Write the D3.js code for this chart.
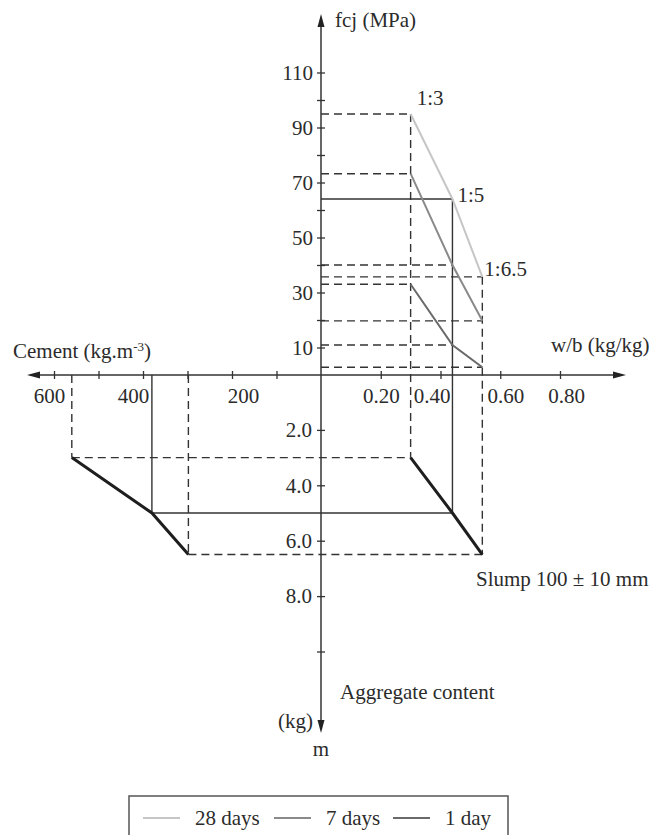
<!DOCTYPE html>
<html>
<head>
<meta charset="utf-8">
<script src="https://cdn.jsdelivr.net/npm/d3@7"></script>
<style>
  html, body { margin: 0; padding: 0; background: #fff; }
  svg { display: block; }
  text { font-family: "Liberation Serif", "Times New Roman", serif; fill: #2b2b2b; }
</style>
</head>
<body>
<div id="chart"></div>
<script>
// mix design
const mixLabels = ["1:3", "1:5", "1:6.5"]
const wbRatio = [0.30, 0.44, 0.54]          // w/b (kg/kg)
const fcj28 = [94.9, 64, 35.7]              // MPa
const fcj7 = [73.2, 40, 19.7]
const fcj1 = [33, 10.9, 2.8]
const aggregate = [3.0, 5.0, 6.5]           // m (kg)
const cement = [560, 380, 298]              // kg.m-3

const seriesNames = ["28 days", "7 days", "1 day"]
const seriesValues = [fcj28, fcj7, fcj1]

// tick labels
const fcjLabelled = [10, 30, 50, 70, 90, 110]
const fcjMinor = [20, 40, 60, 80, 100]
const cementLabelled = [200, 400, 600]
const cementMinor = [100, 300, 500]
const wbLabelled = [0.2, 0.4, 0.6, 0.8]
const mLabelled = [2, 4, 6, 8]
const mMinor = [10]

const W = 651, H = 835
const ox = 321, oy = 375
const seriesColors = ["#c6c6c6", "#8a8a8a", "#6a6a6a"]
const ink = "#333"
const FS = "21px"

const svg = d3.select("#chart").append("svg")
  .attr("width", W).attr("height", H)
  .attr("viewBox", `0 0 ${W} ${H}`)

// scales for the four quadrants
const yUp = d3.scaleLinear().domain([0, 110]).range([oy, 72.5])
const yDown = d3.scaleLinear().domain([0, 10]).range([oy - 0.5, 651.5])
const xCem = d3.scaleLinear().domain([0, 600]).range([ox, 54])
const xWb = d3.scaleLinear().domain([0, 0.8]).range([ox, 560])

const dash = "8,5"

// --- axes (lines + arrows) ---
const axG = svg.append("g")
axG.append("line").attr("x1", 30).attr("x2", 622).attr("y1", oy).attr("y2", oy)
  .attr("stroke", ink).attr("stroke-width", 1.5)
axG.append("line").attr("x1", ox).attr("x2", ox).attr("y1", 18).attr("y2", 729)
  .attr("stroke", ink).attr("stroke-width", 1.5)
// arrowheads
const arrows = [
  `M${ox},14 L${ox - 3.5},27 L${ox + 3.5},27 Z`,
  `M${ox},733 L${ox - 3.5},720 L${ox + 3.5},720 Z`,
  `M27,${oy} L40,${oy - 3.5} L40,${oy + 3.5} Z`,
  `M626,${oy} L613,${oy - 3.5} L613,${oy + 3.5} Z`
]
axG.selectAll("path.arrow").data(arrows).join("path")
  .attr("class", "arrow").attr("d", d => d).attr("fill", "#222")

function styleAxis(g, cross) {
  g.select(".domain").remove()
  g.selectAll(".tick line").attr("stroke", ink).attr("stroke-width", 1.3)
  g.selectAll(".tick text").attr("font-size", FS).attr("fill", "#2b2b2b")
    .attr("font-family", '"Liberation Serif", "Times New Roman", serif')
  g.attr("font-family", null).attr("font-size", null)
  cross(g.selectAll(".tick line"))
}

// fcj axis (upper)
const gUp = svg.append("g").attr("transform", `translate(${ox},0)`)
  .call(d3.axisLeft(yUp).tickValues(fcjLabelled.concat(fcjMinor))
    .tickFormat(d => fcjLabelled.includes(d) ? d : "").tickSize(4).tickPadding(4))
styleAxis(gUp, l => l.attr("x2", -4).attr("x1", 4))

// aggregate axis (lower)
const gDown = svg.append("g").attr("transform", `translate(${ox},0)`)
  .call(d3.axisLeft(yDown).tickValues(mLabelled.concat(mMinor))
    .tickFormat(d => mLabelled.includes(d) ? d.toFixed(1) : "").tickSize(4).tickPadding(5))
styleAxis(gDown, l => l.attr("x2", -4).attr("x1", 4))

// cement axis (left)
const cemNudge = { 600: -5, 400: -10, 200: 11 }
const gCem = svg.append("g").attr("transform", `translate(0,${oy})`)
  .call(d3.axisBottom(xCem).tickValues(cementLabelled.concat(cementMinor))
    .tickFormat(d => cementLabelled.includes(d) ? d : "").tickSize(4).tickPadding(9))
styleAxis(gCem, l => l.attr("y2", 4).attr("y1", -4))
gCem.selectAll(".tick text").attr("dx", d => cemNudge[d] || 0)

// w/b axis (right)
const wbNudge = { 0.4: -9, 0.6: 5, 0.8: 6 }
const gWb = svg.append("g").attr("transform", `translate(0,${oy})`)
  .call(d3.axisBottom(xWb).tickValues(wbLabelled)
    .tickFormat(d3.format(".2f")).tickSize(4).tickPadding(9))
styleAxis(gWb, l => l.attr("y2", 4).attr("y1", -4))
gWb.selectAll(".tick text").attr("dx", d => wbNudge[d] || 0)

// --- guide lines ---
const guides = svg.append("g").attr("fill", "none").attr("stroke", ink).attr("stroke-width", 1.4)
function guide(x1, y1, x2, y2, solid) {
  guides.append("line").attr("x1", x1).attr("y1", y1).attr("x2", x2).attr("y2", y2)
    .attr("stroke-dasharray", solid ? null : dash)
}

wbRatio.forEach((w, i) => {
  const solid = i === 1
  const xw = xWb(w), xc = xCem(cement[i]), ym = yDown(aggregate[i])
  // 28-day strength level and drop down to aggregate content
  guide(ox, yUp(fcj28[i]), xw, yUp(fcj28[i]), solid)
  guide(xw, yUp(fcj28[i]), xw, ym, solid)
  // 7-day and 1-day projections
  guide(ox, yUp(fcj7[i]), xw, yUp(fcj7[i]), false)
  guide(ox, yUp(fcj1[i]), xw, yUp(fcj1[i]), false)
  // across the aggregate quadrant and up to cement axis
  guide(xc, ym, xw, ym, solid)
  guide(xc, oy, xc, ym, solid)
})

// --- strength curves ---
const line = d3.line()
seriesValues.forEach((vals, k) => {
  svg.append("path")
    .datum(wbRatio.map((w, i) => [xWb(w), yUp(vals[i])]))
    .attr("d", line).attr("fill", "none")
    .attr("stroke", seriesColors[k]).attr("stroke-width", 2)
})

// slump curves in lower quadrant
svg.append("path")
  .datum(cement.map((c, i) => [xCem(c), yDown(aggregate[i])]))
  .attr("d", line).attr("fill", "none").attr("stroke", "#1e1e1e").attr("stroke-width", 3)
svg.append("path")
  .datum(wbRatio.map((w, i) => [xWb(w), yDown(aggregate[i])]))
  .attr("d", line).attr("fill", "none").attr("stroke", "#1e1e1e").attr("stroke-width", 3)

// mix labels
const mixOffset = [[6, -9], [5, 3], [2, -1]]
svg.append("g").selectAll("text").data(mixLabels).join("text")
  .attr("x", (d, i) => xWb(wbRatio[i]) + mixOffset[i][0])
  .attr("y", (d, i) => yUp(fcj28[i]) + mixOffset[i][1])
  .attr("font-size", FS).text(d => d)

// --- axis titles ---
const titles = svg.append("g").attr("font-size", FS)
titles.append("text").attr("x", 335).attr("y", 27).attr("font-size", FS).text("fcj (MPa)")
titles.append("text").attr("x", 551).attr("y", 352).attr("font-size", FS).text("w/b (kg/kg)")
const cemT = titles.append("text").attr("x", 13).attr("y", 358).attr("font-size", FS)
cemT.append("tspan").text("Cement (kg.m")
cemT.append("tspan").attr("font-size", "13px").attr("dy", -7).text("-3")
cemT.append("tspan").attr("dy", 7).text(")")
titles.append("text").attr("x", 476).attr("y", 586).attr("font-size", FS).text("Slump 100 \u00b1 10 mm")
titles.append("text").attr("x", 340).attr("y", 699).attr("font-size", FS).text("Aggregate content")
titles.append("text").attr("x", 313).attr("y", 728).attr("text-anchor", "end").attr("font-size", FS).text("(kg)")
titles.append("text").attr("x", 321).attr("y", 756).attr("text-anchor", "middle").attr("font-size", FS).text("m")

// --- legend ---
const leg = svg.append("g")
leg.append("rect").attr("x", 129).attr("y", 796).attr("width", 379).attr("height", 60)
  .attr("fill", "#fff").attr("stroke", "#555").attr("stroke-width", 1.5)
const legX = [143, 274, 393]
seriesNames.forEach((name, k) => {
  leg.append("line").attr("x1", legX[k]).attr("x2", legX[k] + 37)
    .attr("y1", 818).attr("y2", 818)
    .attr("stroke", seriesColors[k]).attr("stroke-width", 2)
  leg.append("text").attr("x", legX[k] + 52).attr("y", 825)
    .attr("font-size", FS).text(name)
})
</script>
</body>
</html>
